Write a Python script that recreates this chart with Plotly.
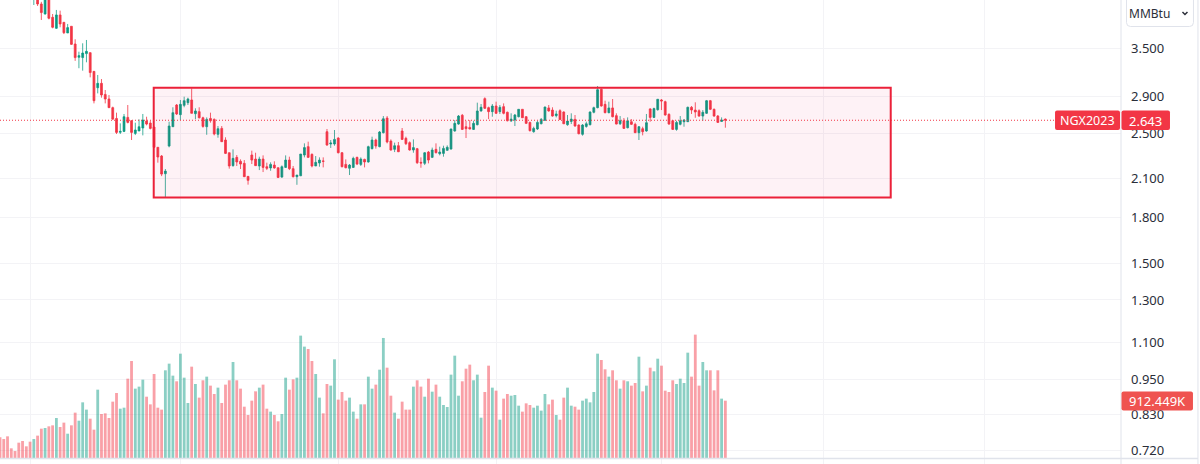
import plotly.graph_objects as go

# first candle on screen is bar 9, the earlier ones sit above the top of the pane
first_candle = 9

opens = [
    4.24, 4.30, 4.165, 4.004, 4.28, 3.952, 3.785, 3.989, 3.875, 3.716,
    3.815, 3.558, 3.377, 3.373, 3.426, 3.439, 3.195, 2.996, 3.048, 2.918,
    2.866, 2.77, 2.655, 2.514, 2.523, 2.666, 2.631, 2.503, 2.527, 2.557,
    2.628, 2.607, 2.567, 2.37, 2.29, 2.136, 2.382, 2.57, 2.799, 2.695,
    2.795, 2.825, 2.855, 2.705, 2.727, 2.662, 2.57, 2.655, 2.645, 2.494,
    2.553, 2.439, 2.32, 2.205, 2.278, 2.243, 2.225, 2.114, 2.299, 2.263,
    2.202, 2.263, 2.196, 2.185, 2.21, 2.187, 2.108, 2.19, 2.254, 2.179,
    2.111, 2.119, 2.299, 2.376, 2.305, 2.202, 2.228, 2.246, 2.52, 2.401,
    2.401, 2.458, 2.32, 2.216, 2.182, 2.19, 2.278, 2.216, 2.26, 2.237,
    2.357, 2.439, 2.376, 2.51, 2.659, 2.429, 2.351, 2.385, 2.527, 2.455,
    2.414, 2.345, 2.357, 2.234, 2.225, 2.326, 2.278, 2.351, 2.311, 2.314,
    2.342, 2.354, 2.527, 2.597, 2.688, 2.57, 2.563, 2.543, 2.59, 2.734,
    2.87, 2.77, 2.727, 2.788, 2.727, 2.781, 2.72, 2.628, 2.638, 2.673,
    2.752, 2.673, 2.614, 2.52, 2.547, 2.6, 2.635, 2.767, 2.744, 2.684,
    2.737, 2.723, 2.59, 2.624, 2.645, 2.587, 2.494, 2.573, 2.59, 2.72,
    2.77, 2.977, 2.806, 2.716, 2.767, 2.684, 2.6, 2.631, 2.56, 2.621,
    2.594, 2.51, 2.55, 2.527, 2.756, 2.666, 2.748, 2.855, 2.836, 2.698,
    2.631, 2.543, 2.594, 2.621, 2.621, 2.774, 2.744, 2.737, 2.68, 2.709,
    2.847, 2.752, 2.68, 2.624, 2.648,
]
highs = [
    4.38, 4.33, 4.20, 4.30, 4.31, 4.004, 4.068, 4.057, 3.875, 3.85,
    3.815, 3.625, 3.452, 3.568, 3.615, 3.44, 3.195, 3.15, 3.10, 2.969,
    2.911, 2.781, 2.716, 2.604, 2.702, 2.799, 2.638, 2.611, 2.645, 2.702,
    2.673, 2.631, 2.567, 2.37, 2.299, 2.176, 2.621, 2.774, 2.81, 2.855,
    2.892, 2.881, 2.988, 2.763, 2.774, 2.673, 2.666, 2.716, 2.655, 2.577,
    2.577, 2.465, 2.32, 2.351, 2.299, 2.26, 2.254, 2.114, 2.339, 2.32,
    2.284, 2.296, 2.231, 2.234, 2.243, 2.187, 2.207, 2.296, 2.284, 2.202,
    2.125, 2.308, 2.407, 2.423, 2.314, 2.29, 2.278, 2.278, 2.547, 2.439,
    2.537, 2.465, 2.326, 2.26, 2.219, 2.284, 2.284, 2.278, 2.266, 2.385,
    2.471, 2.452, 2.527, 2.68, 2.68, 2.445, 2.414, 2.42, 2.557, 2.471,
    2.426, 2.445, 2.364, 2.278, 2.326, 2.336, 2.367, 2.407, 2.376, 2.385,
    2.388, 2.55, 2.638, 2.691, 2.702, 2.631, 2.638, 2.631, 2.825, 2.81,
    2.885, 2.781, 2.81, 2.836, 2.799, 2.817, 2.727, 2.709, 2.702, 2.752,
    2.752, 2.68, 2.621, 2.57, 2.631, 2.659, 2.781, 2.799, 2.774, 2.737,
    2.752, 2.73, 2.691, 2.709, 2.691, 2.594, 2.597, 2.621, 2.73, 2.781,
    3.016, 2.988, 2.847, 2.836, 2.866, 2.709, 2.68, 2.659, 2.666, 2.648,
    2.611, 2.577, 2.57, 2.702, 2.763, 2.77, 2.866, 2.866, 2.847, 2.709,
    2.638, 2.631, 2.68, 2.648, 2.781, 2.788, 2.829, 2.752, 2.744, 2.855,
    2.855, 2.76, 2.691, 2.666, 2.655,
]
lows = [
    4.148, 4.132, 3.911, 3.995, 3.921, 3.785, 3.775, 3.80, 3.70, 3.716,
    3.545, 3.33, 3.235, 3.204, 3.311, 3.121, 2.817, 2.93, 2.881, 2.817,
    2.77, 2.638, 2.497, 2.497, 2.516, 2.604, 2.439, 2.487, 2.527, 2.484,
    2.584, 2.543, 2.365, 2.231, 2.116, 1.946, 2.37, 2.57, 2.691, 2.638,
    2.774, 2.799, 2.709, 2.648, 2.655, 2.56, 2.49, 2.611, 2.484, 2.461,
    2.42, 2.308, 2.179, 2.196, 2.202, 2.176, 2.111, 2.046, 2.219, 2.202,
    2.167, 2.15, 2.167, 2.161, 2.179, 2.10, 2.102, 2.185, 2.167, 2.105,
    2.045, 2.116, 2.278, 2.272, 2.19, 2.202, 2.196, 2.19, 2.385, 2.364,
    2.385, 2.314, 2.19, 2.182, 2.125, 2.185, 2.21, 2.202, 2.19, 2.231,
    2.351, 2.357, 2.37, 2.503, 2.407, 2.339, 2.326, 2.326, 2.439, 2.391,
    2.339, 2.32, 2.219, 2.187, 2.21, 2.225, 2.272, 2.314, 2.296, 2.284,
    2.339, 2.348, 2.52, 2.59, 2.537, 2.458, 2.543, 2.537, 2.584, 2.727,
    2.756, 2.648, 2.673, 2.702, 2.702, 2.698, 2.624, 2.621, 2.577, 2.666,
    2.659, 2.597, 2.523, 2.51, 2.537, 2.594, 2.631, 2.727, 2.673, 2.666,
    2.638, 2.597, 2.58, 2.597, 2.57, 2.494, 2.481, 2.56, 2.584, 2.709,
    2.763, 2.781, 2.709, 2.709, 2.666, 2.594, 2.587, 2.547, 2.553, 2.587,
    2.507, 2.439, 2.484, 2.52, 2.621, 2.659, 2.737, 2.744, 2.684, 2.59,
    2.537, 2.53, 2.584, 2.57, 2.618, 2.702, 2.662, 2.673, 2.631, 2.702,
    2.744, 2.673, 2.611, 2.618, 2.56,
]
closes = [
    4.33, 4.165, 4.026, 4.28, 3.937, 3.80, 3.989, 3.85, 3.72, 3.795,
    3.553, 3.373, 3.399, 3.434, 3.457, 3.18, 2.847, 3.048, 2.911, 2.866,
    2.77, 2.648, 2.513, 2.523, 2.673, 2.614, 2.513, 2.537, 2.57, 2.638,
    2.597, 2.553, 2.37, 2.281, 2.133, 2.158, 2.577, 2.716, 2.702, 2.806,
    2.847, 2.866, 2.709, 2.734, 2.662, 2.573, 2.645, 2.631, 2.497, 2.55,
    2.423, 2.314, 2.202, 2.269, 2.237, 2.219, 2.111, 2.081, 2.254, 2.205,
    2.263, 2.19, 2.182, 2.216, 2.185, 2.105, 2.196, 2.254, 2.179, 2.111,
    2.125, 2.308, 2.367, 2.278, 2.202, 2.234, 2.254, 2.243, 2.391, 2.41,
    2.445, 2.32, 2.196, 2.187, 2.21, 2.269, 2.219, 2.263, 2.237, 2.376,
    2.439, 2.382, 2.517, 2.652, 2.42, 2.345, 2.385, 2.329, 2.445, 2.404,
    2.345, 2.367, 2.231, 2.228, 2.32, 2.254, 2.345, 2.32, 2.326, 2.36,
    2.37, 2.547, 2.604, 2.68, 2.543, 2.55, 2.547, 2.604, 2.734, 2.774,
    2.763, 2.727, 2.788, 2.709, 2.774, 2.709, 2.631, 2.648, 2.691, 2.752,
    2.662, 2.604, 2.53, 2.553, 2.614, 2.645, 2.777, 2.734, 2.68, 2.702,
    2.645, 2.6, 2.628, 2.648, 2.577, 2.5, 2.587, 2.6, 2.723, 2.77,
    2.973, 2.788, 2.716, 2.767, 2.673, 2.597, 2.631, 2.553, 2.631, 2.594,
    2.51, 2.57, 2.52, 2.611, 2.666, 2.76, 2.863, 2.844, 2.691, 2.597,
    2.543, 2.614, 2.631, 2.638, 2.774, 2.744, 2.723, 2.68, 2.72, 2.847,
    2.752, 2.68, 2.614, 2.638, 2.638,
]

# volume in thousands, one per bar from bar 0
volumes = [
    329, 302, 345, 154, 111, 244, 271, 186, 260, 302,
    356, 467, 478, 504, 520, 637, 494, 563, 387, 520,
    722, 594, 886, 770, 626, 451, 1088, 701, 711, 637,
    897, 1035, 785, 801, 1263, 1544, 1104, 1136, 1247, 976,
    854, 1337, 801, 770, 1396, 1502, 1311, 1221, 1661, 1279,
    876, 1454, 1178, 961, 1237, 1295, 1152, 1019, 1120, 876,
    1168, 1237, 1528, 1237, 1104, 817, 685, 913, 1061, 1120,
    1168, 785, 738, 685, 584, 701, 1279, 1088, 1252, 1279,
    1948, 1773, 1735, 1544, 1337, 961, 711, 1178, 1152, 1571,
    929, 1051, 913, 961, 738, 626, 854, 854, 1295,
    1104, 1168, 1406, 1911, 1438, 992, 722, 626, 897, 770,
    770, 1136, 1237, 1136, 976, 1263, 1056, 1168, 976, 844,
    812, 1327, 1629, 992, 1221, 1422, 1486, 1237, 1327, 642,
    1051, 1470, 1120, 1072, 610, 945, 1019, 992, 1003, 833,
    738, 870, 844, 801, 833, 754, 1019, 854, 929, 685,
    610, 961, 1120, 833, 817, 770, 913, 945, 886, 1051,
    1661, 1560, 1412, 1295, 1396, 1237, 1104, 1237, 1221, 1152,
    1194, 1613, 1061, 1152, 1438, 1380, 1581, 1470, 1072, 1051,
    1237, 1178, 1263, 1194, 1677, 1295, 1964, 1152, 1528, 1396,
    1396, 1077, 1396, 945, 912.449,
]

price_ticks = [3.5, 2.9, 2.5, 2.1, 1.8, 1.5, 1.3, 1.1, 0.95, 0.83, 0.72]
price_tick_labels = ["3.500", "2.900", "2.500", "2.100", "1.800", "1.500", "1.300", "1.100", "0.950", "0.830", "0.720"]
time_grid_bars = [8, 48, 90, 132, 176, 219, 262]

price_line = 2.636
box_left, box_right = 40.9, 237.0
box_top, box_bottom = 2.996, 1.946

UP = "#089981"
DOWN = "#F23645"
BOX = "#EB2139"
GRID = "#F3F3F6"
EDGE = "#E0E3EB"
TEXT = "#2A2E39"
FONT = "Noto Sans"

W, H = 1200, 464
PANE_W = 1121.5

bars = list(range(len(volumes)))
candle_bars = bars[first_candle:]
# the first nine volume bars are all red
rising = [False] * first_candle + [c >= o for o, c in zip(opens, closes)]
vol_colors = ["rgba(8,153,129,0.47)" if r else "rgba(242,54,69,0.47)" for r in rising]


def px(x):
    return x / PANE_W


def py(y):
    return 1 - y / H


def rounded(x0, y0, x1, y1, r, fill, line=None):
    # rounded box in page pixels, used for the labels and the unit button
    a, b, c, d = px(x0), px(x1), py(y0), py(y1)
    rx, ry = r / PANE_W, r / H
    path = (f"M{a + rx},{c} L{b - rx},{c} Q{b},{c} {b},{c - ry} L{b},{d + ry} Q{b},{d} {b - rx},{d} "
            f"L{a + rx},{d} Q{a},{d} {a},{d + ry} L{a},{c - ry} Q{a},{c} {a + rx},{c} Z")
    return dict(type="path", path=path, xref="paper", yref="paper", fillcolor=fill,
                line=dict(color=line or fill, width=1 if line else 0), layer="above")


def label(x, y, text, color="white", size=13):
    return dict(x=px(x), y=py(y), xref="paper", yref="paper", text=text, showarrow=False,
                xanchor="center", yanchor="middle", font=dict(family=FONT, size=size, color=color))


fig = go.Figure()

fig.add_trace(go.Bar(
    x=bars, y=volumes, yaxis="y2",
    marker=dict(color=vol_colors, line=dict(width=0)),
    hoverinfo="skip",
))

# slightly see-through outline so the wicks come out as soft as in the screenshot
fig.add_trace(go.Candlestick(
    x=candle_bars, open=opens, high=highs, low=lows, close=closes,
    increasing=dict(line=dict(color="rgba(8,153,129,0.75)", width=1), fillcolor=UP),
    decreasing=dict(line=dict(color="rgba(242,54,69,0.8)", width=1), fillcolor=DOWN),
    whiskerwidth=0,
    hoverinfo="skip",
))

shapes = [
    dict(type="rect", x0=box_left, x1=box_right, y0=box_bottom, y1=box_top, xref="x", yref="y",
         fillcolor="rgba(233,30,99,0.06)", line=dict(color=BOX, width=2), layer="above"),
    dict(type="line", x0=0, x1=px(1056), y0=price_line, y1=price_line, xref="paper", yref="y",
         line=dict(color=DOWN, width=1, dash="1px,2px"), layer="above"),
    dict(type="line", x0=px(1121.5), x1=px(1121.5), y0=0, y1=1, xref="paper", yref="paper",
         line=dict(color=EDGE, width=1), layer="above"),
    dict(type="line", x0=0, x1=px(1198.5), y0=py(458.5), y1=py(458.5), xref="paper", yref="paper",
         line=dict(color=EDGE, width=1.5), layer="above"),
    dict(type="line", x0=px(1198.5), x1=px(1198.5), y0=0, y1=1, xref="paper", yref="paper",
         line=dict(color=EDGE, width=1), layer="above"),
    rounded(1127, -6, 1194, 26.5, 4, "white", EDGE),
    dict(type="path", path=f"M{px(1183)},{py(12)} L{px(1185.5)},{py(14.5)} L{px(1188)},{py(12)}",
         xref="paper", yref="paper", line=dict(color=TEXT, width=1.5), layer="above"),
    rounded(1055.5, 110.5, 1120.5, 130, 2, DOWN),
    rounded(1122, 110.5, 1170.5, 130, 2, DOWN),
    rounded(1122, 391.5, 1193.5, 410.5, 2, "#EF5350"),
]

fig.update_layout(
    width=W, height=H,
    margin=dict(l=0, r=W - PANE_W, t=0, b=0),
    paper_bgcolor="white", plot_bgcolor="white",
    showlegend=False,
    bargap=0.25,
    shapes=shapes,
    annotations=[
        label(1150, 13.5, "MMBtu", TEXT, 12),
        label(1088, 120.5, "NGX2023", size=12.5),
        label(1146, 120.5, "2.643"),
        label(1158.5, 401, "912.449K"),
    ],
    xaxis=dict(
        range=[0, PANE_W / 3.76],
        rangeslider=dict(visible=False),
        tickmode="array", tickvals=time_grid_bars, showticklabels=False, ticks="",
        showgrid=True, gridcolor=GRID, gridwidth=1, zeroline=False,
    ),
    yaxis=dict(
        type="log", side="right",
        range=[-0.1663, 0.6264],
        tickmode="array", tickvals=price_ticks, ticktext=price_tick_labels,
        tickfont=dict(family=FONT, size=13, color=TEXT),
        ticks="", ticklabelstandoff=9,
        showgrid=True, gridcolor=GRID, gridwidth=1, zeroline=False,
    ),
    yaxis2=dict(
        overlaying="y", side="right",
        range=[-95.5, 7291],
        showgrid=False, showticklabels=False, zeroline=False, ticks="",
    ),
)

fig.write_html(
    "out.html",
    config=dict(displayModeBar=False),
    post_script="document.body.style.margin='0';document.body.style.overflow='hidden';",
)
